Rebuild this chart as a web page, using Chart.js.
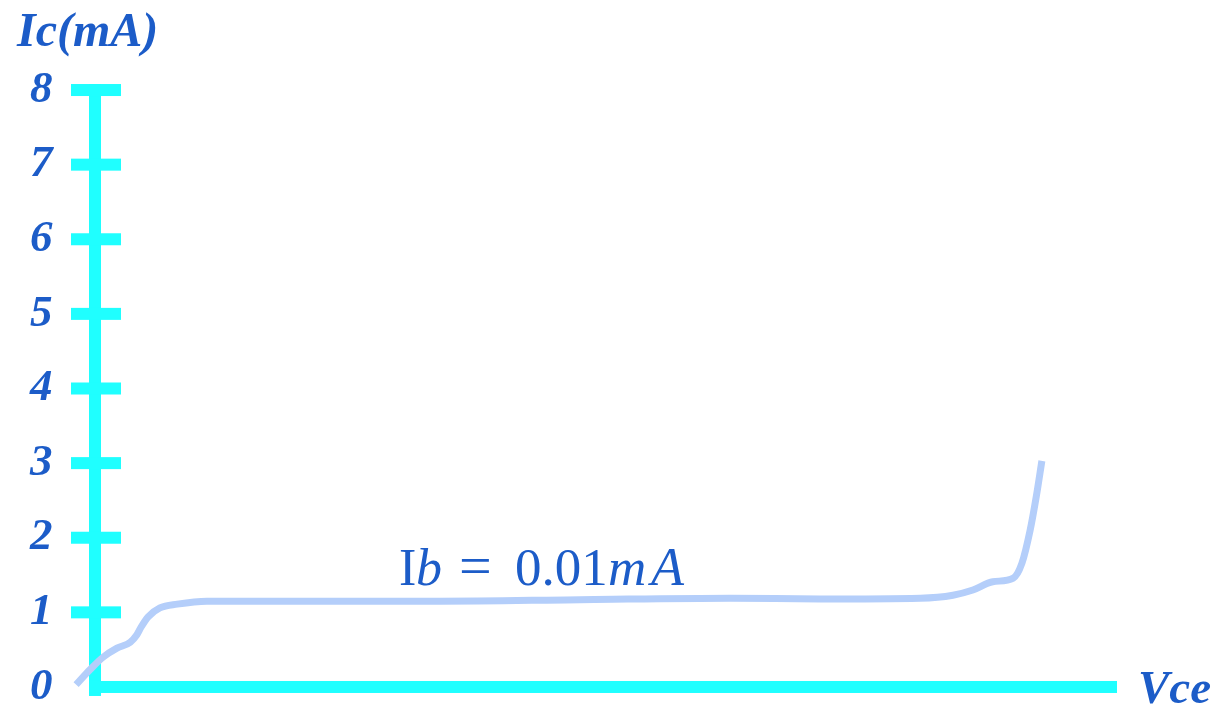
<!DOCTYPE html>
<html>
<head>
<meta charset="utf-8">
<script src="https://cdn.jsdelivr.net/npm/chart.js@4"></script>
<style>
  html, body { margin: 0; padding: 0; background: #ffffff; }
  #wrap { width: 1215px; height: 709px; position: relative; }
</style>
</head>
<body>
<div id="wrap"><canvas id="curveChart"></canvas></div>
<script>
// Output characteristic
const vce = [-0.37, -0.10, 0.16, 0.43, 0.69, 0.82, 0.90, 1.04, 1.27, 1.61, 2.19, 4.15, 6.75,
             9.49, 12.43, 14.19, 16.15, 16.79, 17.18, 17.57, 17.97, 18.14, 18.30, 18.42, 18.53];
const ic = [0.03, 0.23, 0.40, 0.52, 0.60, 0.70, 0.80, 0.94, 1.06, 1.11, 1.15, 1.15, 1.15,
            1.17, 1.19, 1.18, 1.19, 1.23, 1.30, 1.41, 1.46, 1.66, 2.10, 2.55, 3.03];
const icTicks = [0, 1, 2, 3, 4, 5, 6, 7, 8];
const vceEnd = 20;
const yTitle = "Ic(mA)";
const xTitle = "Vce";

const blue = "#1c5cc8";
const cyan = "#1fffff";
const curveColor = "#b4cefa";

// cyan axes with ticks crossing the line
const axesPlugin = {
    id: "axesPlugin",
    beforeDatasetsDraw(chart) {
        const ctx = chart.ctx;
        const xs = chart.scales.x;
        const ys = chart.scales.y;
        const x0 = xs.getPixelForValue(0);
        const y0 = ys.getPixelForValue(0);
        const yTop = ys.getPixelForValue(icTicks[icTicks.length - 1]);
        ctx.save();
        ctx.fillStyle = cyan;
        // y axis
        ctx.fillRect(x0 - 6, yTop - 6, 12, y0 - yTop + 15);
        // x axis
        ctx.fillRect(x0 - 6, y0 - 6, xs.getPixelForValue(vceEnd) - x0 + 6, 12);
        // tick marks
        icTicks.forEach(v => {
            if (v === 0) return;
            const py = ys.getPixelForValue(v);
            ctx.fillRect(x0 - 24, py - 6, 50, 12);
        });
        ctx.restore();
    },
    afterDraw(chart) {
        const ctx = chart.ctx;
        ctx.save();
        ctx.fillStyle = blue;
        ctx.textBaseline = "alphabetic";
        ctx.textAlign = "left";
        ctx.font = "italic bold 48px 'Liberation Serif'";
        ctx.fillText(yTitle, 17, 46);
        ctx.font = "italic bold 47px 'Liberation Serif'";
        ctx.fillText(xTitle, 1138, 703);
        // Ib = 0.01mA label
        const parts = [
            ["I", "52px 'Liberation Serif'", 399],
            ["b", "italic 52px 'Liberation Serif'", 416],
            ["=", "58px 'Liberation Serif'", 459],
            ["0.01", "53px 'Liberation Serif'", 515],
            ["m", "italic 53px 'Liberation Serif'", 608],
            ["A", "italic 54px 'Liberation Serif'", 651]
        ];
        parts.forEach(p => {
            ctx.font = p[1];
            ctx.fillText(p[0], p[2], 585);
        });
        ctx.restore();
    }
};

const ctx = document.getElementById("curveChart").getContext("2d");
new Chart(ctx, {
    type: "line",
    data: {
        datasets: [{
            data: vce.map((v, i) => ({ x: v, y: ic[i] })),
            borderColor: curveColor,
            borderWidth: 7,
            borderCapStyle: "butt",
            pointRadius: 0,
            cubicInterpolationMode: "monotone",
            fill: false
        }]
    },
    options: {
        responsive: true,
        maintainAspectRatio: false,
        animation: false,
        layout: { padding: { left: 9.45, right: 72.45, top: 75.1, bottom: 7.1 } },
        plugins: { legend: { display: false }, tooltip: { enabled: false } },
        scales: {
            x: { type: "linear", min: -0.5, max: 20.5, display: false },
            y: {
                type: "linear",
                min: -0.2,
                max: 8.2,
                afterBuildTicks: s => { s.ticks = icTicks.map(v => ({ value: v })); },
                afterFit: s => { s.width = 60; s.paddingTop = 0; s.paddingBottom = 0; },
                grid: { display: false, drawTicks: false },
                border: { display: false },
                ticks: {
                    color: blue,
                    padding: 17,
                    font: { family: "'Liberation Serif'", size: 45, style: "italic", weight: "bold" }
                }
            }
        }
    },
    plugins: [axesPlugin]
});
</script>
</body>
</html>
